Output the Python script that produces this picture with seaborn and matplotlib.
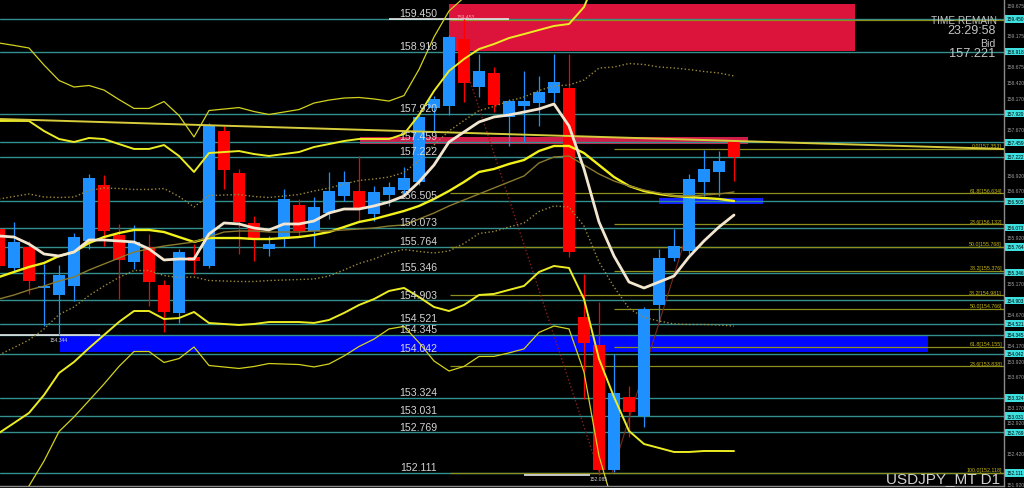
import numpy as np
import pandas as pd
import matplotlib
matplotlib.use("Agg")
import matplotlib.pyplot as plt
import seaborn as sns
from matplotlib.patches import Rectangle

# ---------------- data ----------------
opens = [156.055,155.424,155.764,155.101,154.988,155.133,155.861,156.766,155.958,155.521,
         155.764,155.150,154.697,155.602,155.457,157.639,156.960,156.152,155.732,155.893,
         156.443,156.022,156.313,156.588,156.669,156.297,156.604,156.685,156.815,158.011,
         158.043,159.126,158.350,158.577,157.866,158.043,158.092,158.253,158.334,154.632,
         154.180,152.159,153.339,153.032,154.826,155.586,155.699,156.815,156.976,157.461]
highs = [156.087,156.168,155.861,155.489,155.473,155.990,156.944,156.928,156.136,156.120,
         155.974,155.230,155.732,155.812,157.768,157.720,157.025,156.265,155.942,156.701,
         156.540,156.572,156.976,156.992,157.235,156.750,156.815,157.057,157.914,158.205,
         159.191,159.453,158.884,158.674,158.156,158.609,158.528,158.884,158.884,155.327,
         154.875,154.034,153.517,154.794,155.732,156.055,156.944,157.332,157.316,157.494]
lows = [155.408,155.376,155.004,154.487,154.341,154.891,155.732,155.780,154.923,155.408,
        154.810,154.390,154.535,155.328,155.424,156.702,155.651,155.538,155.618,155.764,
        155.925,155.764,156.216,156.508,156.168,156.184,156.427,156.588,156.766,157.623,
        157.898,158.108,158.189,157.946,157.397,157.461,157.720,158.108,155.602,153.307,
        152.078,152.127,152.692,152.854,154.551,155.538,155.651,156.588,156.588,156.831]
closes = [155.457,155.845,155.214,155.133,155.311,155.925,156.879,156.022,155.554,155.845,
          155.198,154.713,155.683,155.538,157.720,157.009,156.168,155.877,155.812,156.540,
          156.022,156.411,156.669,156.815,156.394,156.653,156.734,156.879,157.866,158.156,
          159.159,158.415,158.609,158.059,158.124,158.124,158.270,158.431,155.683,154.212,
          152.159,153.404,153.097,154.762,155.586,155.780,156.863,157.025,157.154,157.221]

bb_mid = [155.279,155.360,155.441,155.505,155.618,155.683,155.828,155.925,155.990,156.039,
          156.039,156.006,155.925,155.845,155.909,155.909,155.909,155.893,155.893,155.909,
          155.925,155.958,156.006,156.087,156.168,156.216,156.281,156.346,156.427,156.540,
          156.669,156.815,156.976,157.025,157.106,157.170,157.316,157.397,157.397,157.283,
          157.089,156.895,156.750,156.669,156.621,156.588,156.572,156.556,156.540,156.507]
bb_sd = [1.261,1.221,1.180,1.067,0.946,0.889,0.849,0.792,0.719,0.655,
         0.655,0.703,0.655,0.566,0.687,0.695,0.703,0.687,0.671,0.679,
         0.687,0.711,0.711,0.695,0.671,0.647,0.614,0.622,0.736,0.873,
         0.970,0.994,0.994,1.010,1.018,1.018,0.978,0.970,0.986,1.180,
         1.568,1.778,1.980,2.045,2.053,2.069,2.061,2.045,2.037,2.021]

ma_fast = [155.942,155.925,155.812,155.651,155.618,155.683,155.877,155.877,155.861,155.845,
           155.732,155.554,155.570,155.570,155.974,156.152,156.136,156.071,156.039,156.136,
           156.136,156.184,156.313,156.378,156.378,156.427,156.492,156.588,156.815,157.089,
           157.461,157.623,157.785,157.866,157.898,157.946,157.995,158.076,157.720,157.025,
           156.168,155.618,155.198,155.101,155.198,155.295,155.602,155.861,156.087,156.281]
ma_slow = [154.923,154.988,155.069,155.133,155.214,155.279,155.392,155.489,155.586,155.683,
           155.732,155.780,155.812,155.845,155.925,156.006,156.022,156.022,156.006,156.006,
           156.006,156.022,156.022,156.039,156.055,156.071,156.103,156.120,156.216,156.313,
           156.427,156.524,156.621,156.718,156.815,156.912,157.122,157.219,157.235,157.089,
           156.944,156.831,156.750,156.685,156.637,156.588,156.588,156.604,156.621,156.653]

level_prices = [159.450,158.918,157.920,157.459,157.222,156.505,156.073,155.764,155.346,
                154.903,154.521,154.345,154.042,153.324,153.031,152.769,152.111]
level_labels = ["159.450","158.918","157.920","157.459","157.222","156.505","156.073","155.764",
                "155.346","154.903","154.521","154.345","154.042","153.324","153.031","152.769","152.111"]

fib_a_prices = [159.437,156.634,155.768,154.981,153.838,152.118]
fib_a_labels = ["","61.8[156.634]","50.0[155.768]","38.2[154.981]",
                "23.6[153.838]","100.0[152.118]"]
fib_a_start = 30.07
fib_b_prices = [157.353,156.132,155.376,154.766,154.155]
fib_b_labels = ["0.0[157.353]","23.6[156.132]","38.2[155.376]","50.0[154.766]","61.8[154.155]"]
fib_b_start = 41.0

axis_tick_labels = ["159.675","159.425","159.175","158.925","158.675","158.420","158.170",
                    "157.920","157.670","157.420","157.170","156.920","156.670","156.420",
                    "156.170","155.920","155.670","155.420","155.170","154.920","154.670",
                    "154.420","154.170","153.920","153.670","153.420","153.170","152.920",
                    "152.670","152.420","152.170","151.920"]

# zones: candle-index span and price span
zone_start = [30.0, 24.07, 4.07, 44.0]
zone_end = [57.07, 49.93, 61.93, 50.93]
zone_low = [158.933, 157.43, 154.06, 156.46]
zone_high = [159.692, 157.54, 154.33, 156.556]

# long trend line (two anchor points, candle index / price)
trend_x = [0.067, 67.0]
trend_y = [157.833, 157.348]
# fall and rebound lines
fall_x = [31.2, 40.1]
fall_y = [158.60, 152.05]
rise_x = [40.87, 46.07]
rise_y = [152.11, 156.14]

# high / low markers
mark_price = [159.450, 154.344, 152.085]
mark_start = [26.0, 0.07, 35.0]
mark_end = [34.0, 6.73, 39.4]
mark_labels = ["159.453", "154.344", "152.085"]

# ---------------- style ----------------
sns.set_theme(style="dark", rc={"axes.facecolor": "black", "figure.facecolor": "black"})
plt.rcParams['font.family'] = ['Liberation Sans', 'DejaVu Sans']

UP = '#1e90ff'
DOWN = '#ff0000'
TEAL = '#33908e'

fig = plt.figure(figsize=(10.24, 4.89), dpi=100)
ax = fig.add_axes([0, 2/489, 1004/1024, 487/489])
ax.set_facecolor('black')
ax.set_xlim(1/15, 1005/15)
ax.set_ylim(151.900, 159.773)
ax.set_xticks([]); ax.set_yticks([])
for s in ['top', 'left']:
    ax.spines[s].set_visible(False)
for s in ['right', 'bottom']:
    ax.spines[s].set_color('#8a8a8a')
    ax.spines[s].set_linewidth(1.0)
ax.grid(False)

idx = np.arange(len(opens))

# zones
zone_colors = ['#dc143c', '#d01c48', '#0008ff', '#1020ff']
for xs, xe, lo, hi, c in zip(zone_start, zone_end, zone_low, zone_high, zone_colors):
    ax.add_patch(Rectangle((xs, lo), xe - xs, hi - lo, facecolor=c, edgecolor='none', zorder=1))

# level lines
ytr = ax.get_yaxis_transform()
for p, lab in zip(level_prices, level_labels):
    ax.axhline(p, color=TEAL, lw=1.0, zorder=2)
    ax.text(437/1004, p + 0.012, lab, transform=ytr, ha='right', va='bottom',
            fontsize=7.6, color='#d4d4d4', zorder=8)

# fib lines
for p, lab in zip(fib_a_prices, fib_a_labels):
    ax.hlines(p, fib_a_start, 67.0, color='#8e8e1c', lw=0.9, zorder=2)
    if lab:
        ax.text(1002/1004, p + 0.01, lab, transform=ytr, ha='right', va='bottom',
                fontsize=3.8, color='#c8b814', zorder=3)
for p, lab in zip(fib_b_prices, fib_b_labels):
    ax.hlines(p, fib_b_start, 67.0, color='#8e8e1c', lw=0.9, zorder=2)
    ax.text(1002/1004, p + 0.01, lab, transform=ytr, ha='right', va='bottom',
            fontsize=3.8, color='#c8b814', zorder=3)

# markers
for p, xs, xe in zip(mark_price, mark_start, mark_end):
    ax.hlines(p, xs, xe, color='#e8e8e8', lw=1.2, zorder=4)
ax.text(30.5, mark_price[0] + 0.02, mark_labels[0], fontsize=3.6, color='#ff9aa8', zorder=9)
ax.text(3.4, mark_price[1] - 0.03, mark_labels[1], fontsize=3.6, color='#cfcfcf', va='top', zorder=9)
ax.text(39.4, mark_price[2] - 0.02, mark_labels[2], fontsize=3.6, color='#cfcfcf', va='top', zorder=9)

# candles
ocol = [UP if c >= o else DOWN for o, c in zip(opens, closes)]
ax.vlines(idx, lows, highs, colors=ocol, lw=0.9, zorder=5)
bottoms = np.minimum(opens, closes)
heights = np.maximum(np.abs(np.array(closes) - np.array(opens)), 0.02)
ax.bar(idx, heights, bottom=bottoms, width=0.74, color=ocol, edgecolor='none', zorder=5)

# Bollinger style bands
bb = pd.DataFrame({'i': idx, 'mid': bb_mid, 'sd': bb_sd})
band_styles = [
    (3, '#d2d21e', 0.9, '-'),
    (2, '#ecec22', 1.4, '-'),
    (1, '#9c8a3a', 1.0, ':'),
]
for k, col, lw, ls in band_styles:
    for sign in (1, -1):
        sns.lineplot(x=bb['i'], y=bb['mid'] + sign * k * bb['sd'], ax=ax, color=col,
                     linewidth=lw, linestyle=ls, estimator=None, sort=False, legend=False, zorder=6)
sns.lineplot(x=bb['i'], y=bb['mid'], ax=ax, color='#f2f21a', linewidth=1.7,
             estimator=None, sort=False, legend=False, zorder=6)

# moving averages
sns.lineplot(x=idx, y=ma_slow, ax=ax, color='#8a7a2c', linewidth=1.0,
             estimator=None, sort=False, legend=False, zorder=6)
sns.lineplot(x=idx, y=ma_fast, ax=ax, color='#f3e6d0', linewidth=2.0,
             estimator=None, sort=False, legend=False, zorder=7)

# trend lines
sns.lineplot(x=trend_x, y=trend_y, ax=ax, color='#d6cc3c', linewidth=1.4,
             estimator=None, sort=False, legend=False, zorder=6)
sns.lineplot(x=fall_x, y=fall_y, ax=ax, color='#8b1e1e', linewidth=1.0, linestyle=':',
             estimator=None, sort=False, legend=False, zorder=4)
sns.lineplot(x=rise_x, y=rise_y, ax=ax, color='#7a2a1a', linewidth=0.8,
             estimator=None, sort=False, legend=False, zorder=4)

# right axis tick labels (those hidden under a price tag are left out)
for lab in axis_tick_labels:
    v = float(lab)
    if min(abs(v - p) for p in level_prices) < 0.11:
        continue
    ax.text(1.003, v, lab, transform=ytr, ha='left', va='center',
            fontsize=3.6, color='#9a9a9a', clip_on=False, zorder=5)
# cyan price tags
for p, lab in zip(level_prices, level_labels):
    ax.add_patch(Rectangle((1.0012, p - 0.058), 0.0195, 0.116, transform=ytr,
                           facecolor='#3fe0e0', edgecolor='none', clip_on=False, zorder=6))
    ax.text(1.011, p, lab, transform=ytr, ha='center', va='center',
            fontsize=3.4, color='black', clip_on=False, zorder=7)

# info texts
fig.text(997/1024, 1 - 21/489, "TIME REMAIN", ha='right', va='center', fontsize=7.2, color='#c4c4c4')
fig.text(996/1024, 1 - 31.5/489, "23:29:58", ha='right', va='center', fontsize=9, color='#c4c4c4')
fig.text(995/1024, 1 - 44/489, "Bid", ha='right', va='center', fontsize=7.6, color='#c4c4c4')
fig.text(995/1024, 1 - 54.5/489, "157.221", ha='right', va='center', fontsize=9.2, color='#c4c4c4')
fig.text(1000/1024, 1 - 479/489, "USDJPY_MT D1", ha='right', va='center', fontsize=11, color='#d0d0d0')

fig.savefig("out.png", dpi=100, facecolor='black')
